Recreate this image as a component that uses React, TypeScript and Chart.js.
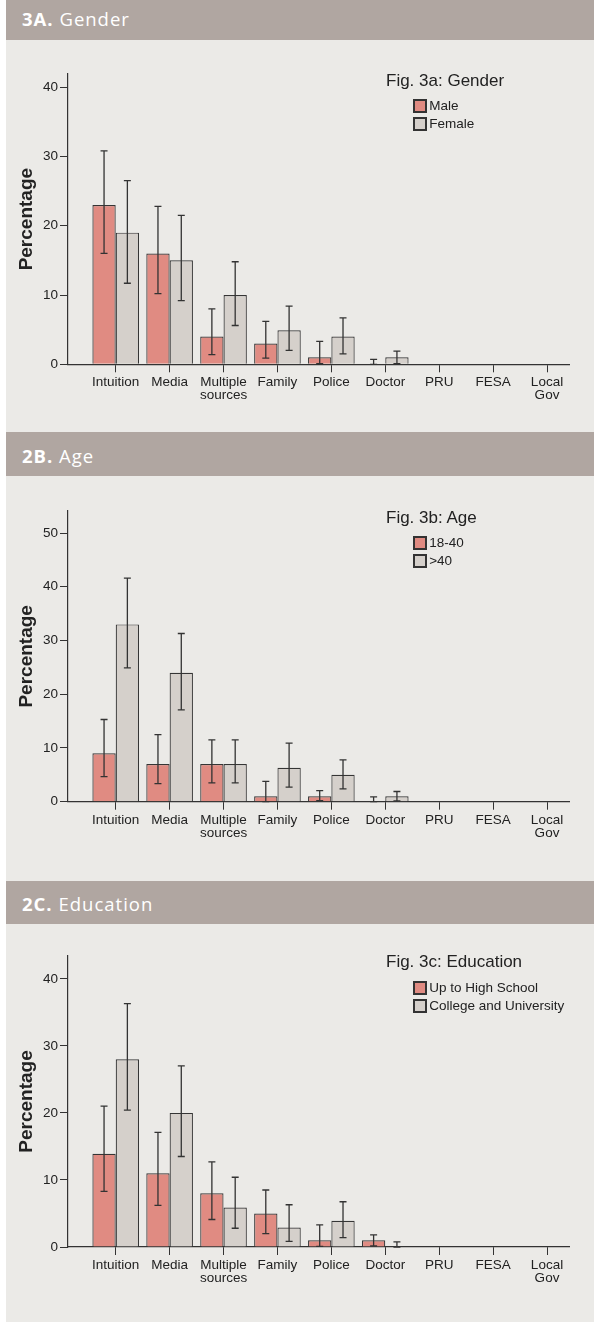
import React, { useEffect, useRef } from "react";
import { Chart, registerables } from "chart.js";

Chart.register(...registerables);

// ---------- data ----------
const categories = ["Intuition", "Media", "Multiple\nsources", "Family", "Police", "Doctor", "PRU", "FESA", "Local\nGov"];

const genderYTicks = [0, 10, 20, 30, 40];
const maleValues = [23, 16, 4, 3, 1, 0, 0, 0, 0];
const maleHi = [30.8, 22.8, 8.0, 6.2, 3.3, 0.7, null, null, null];
const maleLo = [16.0, 10.2, 1.4, 0.9, 0.1, 0, null, null, null];
const femaleValues = [19, 15, 10, 4.9, 4, 1, 0, 0, 0];
const femaleHi = [26.5, 21.5, 14.8, 8.4, 6.7, 1.9, null, null, null];
const femaleLo = [11.7, 9.2, 5.6, 2.0, 1.5, 0.1, null, null, null];

const ageYTicks = [0, 10, 20, 30, 40, 50];
const youngValues = [9, 7, 7, 1, 1, 0, 0, 0, 0];
const youngHi = [15.3, 12.5, 11.5, 3.8, 2.05, 0.9, null, null, null];
const youngLo = [4.65, 3.35, 3.5, 0, 0.2, 0, null, null, null];
const olderValues = [33, 24, 7, 6.3, 5, 1, 0, 0, 0];
const olderHi = [41.6, 31.3, 11.5, 10.9, 7.8, 1.9, null, null, null];
const olderLo = [24.9, 17.1, 3.5, 2.7, 2.4, 0.15, null, null, null];

const eduYTicks = [0, 10, 20, 30, 40];
const highSchoolValues = [13.9, 11, 8, 5, 1, 1, 0, 0, 0];
const highSchoolHi = [21, 17.1, 12.7, 8.5, 3.3, 1.8, null, null, null];
const highSchoolLo = [8.3, 6.2, 4.1, 2.0, 0.1, 0.15, null, null, null];
const collegeValues = [28, 20, 5.9, 2.9, 3.9, 0, 0, 0, 0];
const collegeHi = [36.3, 27.0, 10.4, 6.3, 6.75, 0.75, null, null, null];
const collegeLo = [20.4, 13.5, 2.8, 0.85, 1.4, 0, null, null, null];

// ---------- styles ----------
const FONT = "'Liberation Sans', Arial, Helvetica, sans-serif";
const HEADER_FONT = "'Open Sans', 'Liberation Sans', sans-serif";
const PANEL_BG = "#EBEAE7";
const HEADER_BG = "#B0A6A1";
const COLOR_A = "#E08B82";
const COLOR_B = "#D5D0CB";
const INK = "#333333";
const TEXT = "#222222";

type Series = { label: string; values: number[]; hi: (number | null)[]; lo: (number | null)[]; color: string };
type PanelSpec = {
  code: string;
  name: string;
  title: string;
  top: number;
  headerH: number;
  headerTextTop: number;
  H: number;
  areaTop: number;
  areaBottom: number;
  yMax: number;
  yTicks: number[];
  titleTop: number;
  legendTop: number;
  series: Series[];
};

const panels: PanelSpec[] = [
  {
    code: "3A.", name: "Gender", title: "Fig. 3a: Gender",
    top: 0, headerH: 40, headerTextTop: 10.3, H: 392,
    areaTop: 34, areaBottom: 324.3, yMax: 41.9, yTicks: genderYTicks,
    titleTop: 31.7, legendTop: 59,
    series: [
      { label: "Male", values: maleValues, hi: maleHi, lo: maleLo, color: COLOR_A },
      { label: "Female", values: femaleValues, hi: femaleHi, lo: femaleLo, color: COLOR_B },
    ],
  },
  {
    code: "2B.", name: "Age", title: "Fig. 3b: Age",
    top: 432, headerH: 44, headerTextTop: 14.9, H: 405,
    areaTop: 35, areaBottom: 325.7, yMax: 54.1, yTicks: ageYTicks,
    titleTop: 33, legendTop: 59.7,
    series: [
      { label: "18-40", values: youngValues, hi: youngHi, lo: youngLo, color: COLOR_A },
      { label: ">40", values: olderValues, hi: olderHi, lo: olderLo, color: COLOR_B },
    ],
  },
  {
    code: "2C.", name: "Education", title: "Fig. 3c: Education",
    top: 881, headerH: 43, headerTextTop: 14.3, H: 398,
    areaTop: 32, areaBottom: 323, yMax: 43.4, yTicks: eduYTicks,
    titleTop: 29.4, legendTop: 56.7,
    series: [
      { label: "Up to High School", values: highSchoolValues, hi: highSchoolHi, lo: highSchoolLo, color: COLOR_A },
      { label: "College and University", values: collegeValues, hi: collegeHi, lo: collegeLo, color: COLOR_B },
    ],
  },
];

const CANVAS_W = 588;
const AXIS_LEFT = 62;
const RIGHT_PAD = 25;
const X_MIN = -0.885;
const X_MAX = 8.408;

function BarPanel({ spec }: { spec: PanelSpec }) {
  const ref = useRef<HTMLCanvasElement | null>(null);

  useEffect(() => {
    if (!ref.current) return;
    const errorBars = {
      id: "errorBars",
      afterDatasetsDraw(chart: any) {
        const ctx = chart.ctx;
        const yScale = chart.scales.y;
        ctx.save();
        ctx.strokeStyle = INK;
        ctx.lineWidth = 1.3;
        spec.series.forEach((s, di) => {
          const meta = chart.getDatasetMeta(di);
          s.hi.forEach((hi, i) => {
            const lo = s.lo[i];
            if (hi == null || lo == null) return;
            const el = meta.data[i];
            if (!el) return;
            const x = el.x;
            const yh = yScale.getPixelForValue(hi);
            const yl = yScale.getPixelForValue(lo);
            ctx.beginPath();
            ctx.moveTo(x, yh);
            ctx.lineTo(x, yl);
            ctx.moveTo(x - 3.5, yh);
            ctx.lineTo(x + 3.5, yh);
            ctx.moveTo(x - 3.5, yl);
            ctx.lineTo(x + 3.5, yl);
            ctx.stroke();
          });
        });
        ctx.restore();
      },
    };

    const chart = new Chart(ref.current, {
      type: "bar",
      data: {
        datasets: spec.series.map((s) => ({
          label: s.label,
          data: s.values.map((v, i) => ({ x: i, y: v })),
          backgroundColor: s.color,
          borderColor: "#353535",
          borderWidth: 1.2,
          categoryPercentage: 0.865,
          barPercentage: 1,
        })),
      },
      options: {
        responsive: false,
        animation: false,
        events: [],
        layout: { padding: { top: spec.areaTop, right: RIGHT_PAD, left: 0, bottom: 0 } },
        plugins: {
          legend: { display: false },
          tooltip: { enabled: false },
          title: { display: false },
        },
        scales: {
          x: {
            type: "linear",
            min: X_MIN,
            max: X_MAX,
            offset: false,
            z: 1,
            afterBuildTicks: (s: any) => {
              s.ticks = categories.map((_, i) => ({ value: i }));
            },
            afterFit: (s: any) => {
              s.height = spec.H - spec.areaBottom;
            },
            grid: {
              offset: false,
              drawOnChartArea: false,
              drawTicks: true,
              tickLength: 8,
              color: INK,
              tickColor: INK,
              lineWidth: 1,
            },
            border: { display: true, color: INK, width: 1.2 },
            ticks: {
              autoSkip: false,
              maxRotation: 0,
              minRotation: 0,
              padding: 4,
              color: TEXT,
              font: { family: FONT, size: 13.5, lineHeight: 0.95 },
              callback: (v: any) => {
                const c = categories[Math.round(Number(v))];
                return c ? c.split("\n") : "";
              },
            },
          },
          y: {
            type: "linear",
            min: 0,
            max: spec.yMax,
            z: 1,
            afterBuildTicks: (s: any) => {
              s.ticks = spec.yTicks.map((v) => ({ value: v }));
            },
            afterFit: (s: any) => {
              s.width = AXIS_LEFT;
            },
            grid: {
              drawOnChartArea: false,
              drawTicks: true,
              tickLength: 8,
              color: INK,
              tickColor: INK,
              lineWidth: 1,
            },
            border: { display: true, color: INK, width: 1.2 },
            ticks: {
              padding: 2,
              color: TEXT,
              font: { family: FONT, size: 13.5 },
              callback: (v: any) => String(v),
            },
            title: {
              display: true,
              text: "Percentage",
              color: TEXT,
              font: { family: FONT, size: 19, weight: "bold" },
              padding: { top: 9, bottom: 0 },
            },
          },
        },
      } as any,
      plugins: [errorBars],
    });
    return () => chart.destroy();
  }, [spec]);

  return (
    <div
      style={{
        position: "absolute",
        left: 6,
        top: spec.top,
        width: CANVAS_W,
        height: spec.headerH + spec.H,
        background: PANEL_BG,
      }}
    >
      <div style={{ position: "relative", height: spec.headerH, background: HEADER_BG }}>
        <div
          style={{
            position: "absolute",
            left: 16,
            top: spec.headerTextTop,
            fontFamily: HEADER_FONT,
            fontSize: 18.5,
            lineHeight: "18.5px",
            color: "#FFFFFF",
            letterSpacing: "1px",
            whiteSpace: "nowrap",
          }}
        >
          <span style={{ fontWeight: 700 }}>{spec.code}</span> {spec.name}
        </div>
      </div>
      <div style={{ position: "relative", height: spec.H }}>
        <canvas ref={ref} width={CANVAS_W} height={spec.H} style={{ display: "block", width: CANVAS_W, height: spec.H }} />
        <div
          style={{
            position: "absolute",
            left: 380,
            top: spec.titleTop,
            fontFamily: FONT,
            fontSize: 17,
            lineHeight: "17px",
            color: TEXT,
            whiteSpace: "nowrap",
          }}
        >
          {spec.title}
        </div>
        <div style={{ position: "absolute", left: 406.7, top: spec.legendTop }}>
          {spec.series.map((s, i) => (
            <div
              key={s.label}
              style={{ display: "flex", alignItems: "center", height: 14, marginTop: i === 0 ? 0 : 4.3 }}
            >
              <div
                style={{
                  width: 14,
                  height: 14,
                  boxSizing: "border-box",
                  border: `2px solid ${INK}`,
                  background: s.color,
                }}
              />
              <div
                style={{
                  marginLeft: 2.5,
                  fontFamily: FONT,
                  fontSize: 13.5,
                  lineHeight: "14px",
                  color: TEXT,
                  whiteSpace: "nowrap",
                }}
              >
                {s.label}
              </div>
            </div>
          ))}
        </div>
      </div>
    </div>
  );
}

export default function App() {
  return (
    <div style={{ position: "absolute", left: 0, top: 0, width: 594, height: 1323, background: "#FFFFFF", overflow: "hidden" }}>
      {panels.map((p) => (
        <BarPanel key={p.code} spec={p} />
      ))}
    </div>
  );
}
